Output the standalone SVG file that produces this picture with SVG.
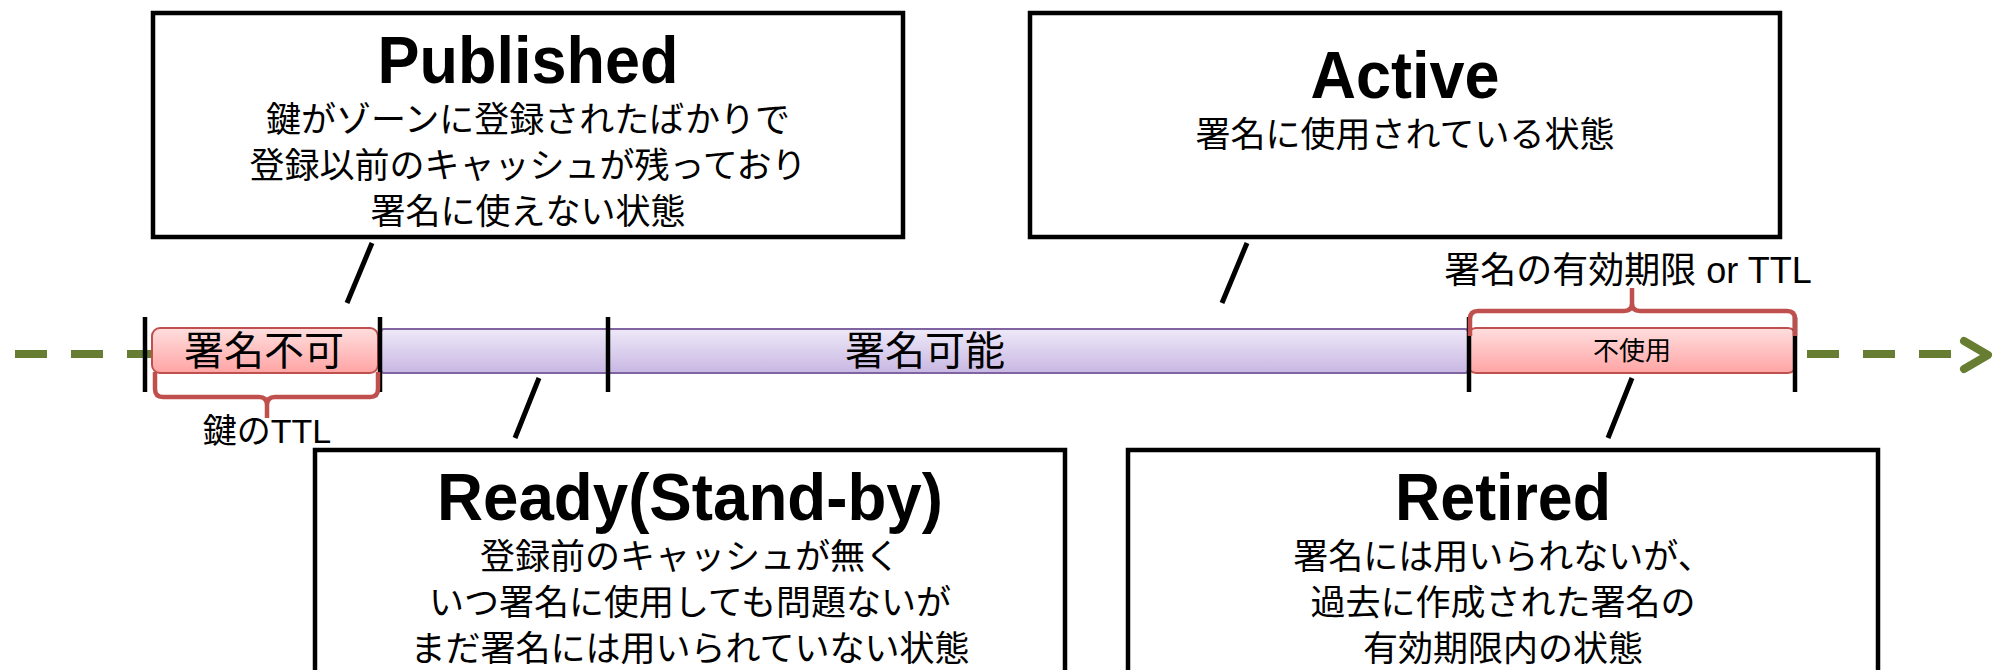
<svg xmlns="http://www.w3.org/2000/svg" width="1992" height="670" viewBox="0 0 1992 670">
<defs>
<linearGradient id="pink" x1="0" y1="0" x2="0" y2="1"><stop offset="0" stop-color="#ffdede"/><stop offset="1" stop-color="#ffa4a4"/></linearGradient>
<linearGradient id="purple" x1="0" y1="0" x2="0" y2="1"><stop offset="0" stop-color="#eee9f8"/><stop offset="1" stop-color="#c8b7e2"/></linearGradient>
<style>
.box{fill:#fff;stroke:#000;stroke-width:4.5}
.title{font-family:"Liberation Sans",Arial,sans-serif;font-weight:bold;font-size:66px;text-anchor:middle;fill:#000}
.jp{font-family:"Liberation Sans","Noto Sans CJK JP",sans-serif;font-size:35px;text-anchor:middle;fill:#000}
.tick{stroke:#000;stroke-width:4.5}
.ptr{stroke:#000;stroke-width:5}
.brace{fill:none;stroke:#c0504d;stroke-width:4.5;stroke-linejoin:round}
.redbox{fill:url(#pink);stroke:#c0504d;stroke-width:2}
</style>
</defs>
<g id="timeline">
<line x1="15" y1="354" x2="1975" y2="354" stroke="#677e32" stroke-width="8" stroke-dasharray="32 24"/>
<polyline points="1964,341 1988,355 1964,369" fill="none" stroke="#677e32" stroke-width="8" stroke-linecap="round" stroke-linejoin="round"/>
</g>
<g id="bar-signable">
<rect x="381" y="329" width="1087" height="44" rx="3" fill="url(#purple)" stroke="#8064a2" stroke-width="2"/>
<text class="jp" x="925" y="365" style="font-size:40px">署名可能</text>
</g>
<g id="bar-unsignable">
<rect class="redbox" x="152" y="328" width="226" height="45" rx="8"/>
<text class="jp" x="264" y="365" style="font-size:40px">署名不可</text>
</g>
<g id="bar-unused">
<rect class="redbox" x="1468" y="328" width="328" height="45" rx="8"/>
<text class="jp" x="1632" y="360" style="font-size:26px">不使用</text>
</g>
<g id="ticks">
<line class="tick" x1="145" y1="317" x2="145" y2="392"/>
<line class="tick" x1="380" y1="317" x2="380" y2="392"/>
<line class="tick" x1="608" y1="317" x2="608" y2="392"/>
<line class="tick" x1="1469" y1="317" x2="1469" y2="392"/>
<line class="tick" x1="1795" y1="317" x2="1795" y2="392"/>
</g>
<g id="brace-ttl">
<path class="brace" d="M155,372 V389 Q155,397 163,397 H259 Q267,397 267,405 V418 M267,405 Q267,397 275,397 H370 Q378,397 378,389 V372"/>
<text class="jp" x="267" y="443" style="font-size:34px">鍵のTTL</text>
</g>
<g id="brace-validity">
<path class="brace" d="M1470,336 V319 Q1470,311 1478,311 H1624 Q1632,311 1632,303 V288 M1632,303 Q1632,311 1640,311 H1787 Q1795,311 1795,319 V336"/>
<text class="jp" x="1628" y="283" style="font-size:36px">署名の有効期限 or TTL</text>
</g>
<g id="connectors">
<line class="ptr" x1="372" y1="243" x2="347" y2="303"/>
<line class="ptr" x1="1247" y1="243" x2="1222" y2="303"/>
<line class="ptr" x1="539" y1="378" x2="515" y2="438"/>
<line class="ptr" x1="1632" y1="378" x2="1608" y2="438"/>
</g>
<g id="published">
<rect class="box" x="153" y="13" width="750" height="224"/>
<text class="title" x="528" y="83" textLength="301" lengthAdjust="spacingAndGlyphs">Published</text>
<text class="jp" x="528" y="132">鍵がゾーンに登録されたばかりで</text>
<text class="jp" x="528" y="178">登録以前のキャッシュが残っており</text>
<text class="jp" x="528" y="224">署名に使えない状態</text>
</g>
<g id="active">
<rect class="box" x="1030" y="13" width="750" height="224"/>
<text class="title" x="1405" y="98" textLength="189" lengthAdjust="spacingAndGlyphs">Active</text>
<text class="jp" x="1405" y="147">署名に使用されている状態</text>
</g>
<g id="ready">
<rect class="box" x="315" y="450" width="750" height="250"/>
<text class="title" x="690" y="520" textLength="506" lengthAdjust="spacingAndGlyphs">Ready(Stand-by)</text>
<text class="jp" x="690" y="569">登録前のキャッシュが無く</text>
<text class="jp" x="690" y="615">いつ署名に使用しても問題ないが</text>
<text class="jp" x="690" y="661">まだ署名には用いられていない状態</text>
</g>
<g id="retired">
<rect class="box" x="1128" y="450" width="750" height="250"/>
<text class="title" x="1503" y="520" textLength="216" lengthAdjust="spacingAndGlyphs">Retired</text>
<text class="jp" x="1503" y="569">署名には用いられないが、</text>
<text class="jp" x="1503" y="615">過去に作成された署名の</text>
<text class="jp" x="1503" y="661">有効期限内の状態</text>
</g>
</svg>
